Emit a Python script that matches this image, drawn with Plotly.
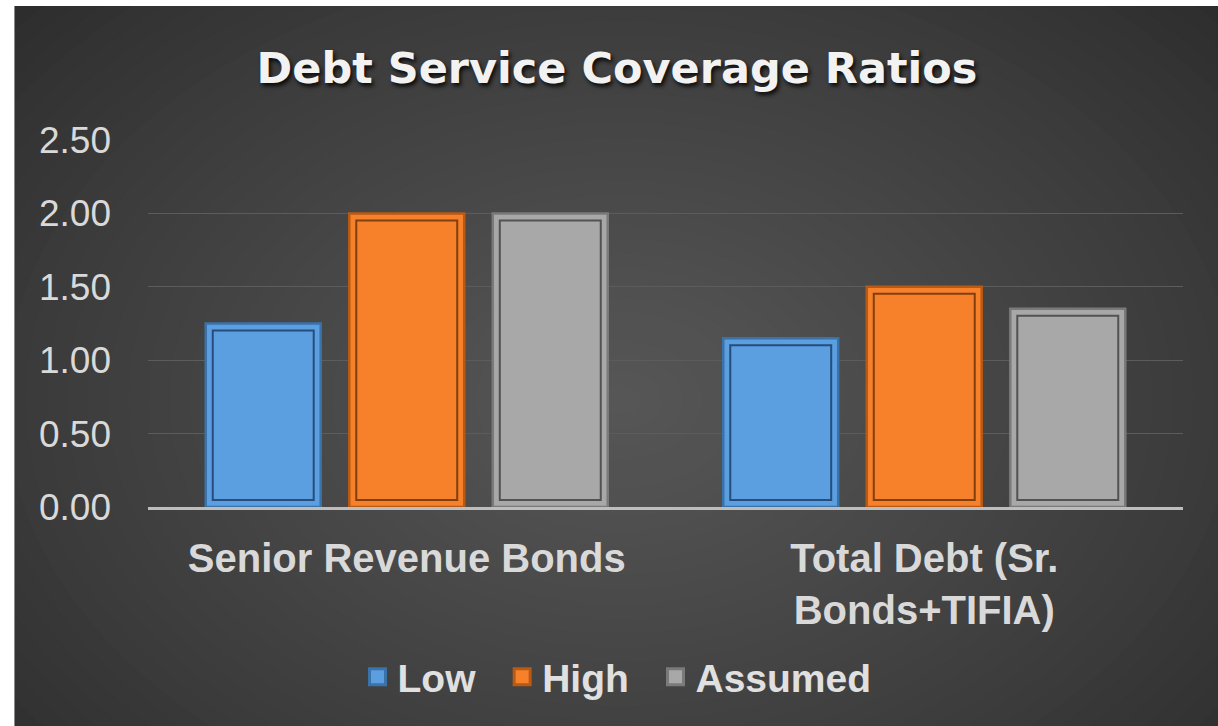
import plotly.graph_objects as go

categories = ["Senior Revenue Bonds", "Total Debt (Sr.<br>Bonds+TIFIA)"]
series_names = ["Low", "High", "Assumed"]
low_values = [1.25, 1.15]
high_values = [2.00, 1.50]
assumed_values = [2.00, 1.35]
y_ticks = [0.0, 0.5, 1.0, 1.5, 2.0, 2.5]

W, H = 1218, 726
L, R, T, B = 148, 35, 140, 219
PW, PH = W - L - R, H - T - B
Y_MAX = 2.5
BARGAP, GROUPGAP = 0.168, 0.199

fills = ["#5b9fe0", "#f7802a", "#a8a8a8"]
edges = ["#3a72aa", "#b85a14", "#7a7a7a"]
grooves = ["rgba(20,50,90,0.75)", "rgba(90,40,5,0.75)", "rgba(60,60,60,0.8)"]
values = [low_values, high_values, assumed_values]

# geometry helpers (pixel -> data units) for the bevel frame
px_per_cat = PW / len(categories)
px_per_unit = PH / Y_MAX
slot = (1 - BARGAP) / 3
bar_w = slot * (1 - GROUPGAP)
inset_px = 7
inner_w = bar_w - 2 * inset_px / px_per_cat
inset_y = inset_px / px_per_unit

fig = go.Figure()
for name, vals, fc, ec in zip(series_names, values, fills, edges):
    fig.add_trace(go.Bar(
        x=categories, y=vals, name=name, showlegend=False, offsetgroup=name,
        marker=dict(color=fc, line=dict(color=ec, width=2.5)),
        hoverinfo="skip",
    ))
for name, vals, gc in zip(series_names, values, grooves):
    fig.add_trace(go.Bar(
        x=categories, y=[v - 2 * inset_y for v in vals], base=inset_y,
        width=inner_w, name=name + " frame", showlegend=False, offsetgroup=name,
        marker=dict(color="rgba(0,0,0,0)", line=dict(color=gc, width=2)),
        hoverinfo="skip",
    ))
for name, fc, ec in zip(series_names, fills, edges):
    fig.add_trace(go.Scatter(
        x=[None], y=[None], mode="markers", name=name + "\u00a0\u00a0",
        marker=dict(symbol="square", size=16, color=fc, line=dict(color=ec, width=3)),
    ))

def px2x(px):
    return (px - L) / PW

def px2y(py):
    return (H - B - py) / PH

shapes = []
cx, cy = 620, 400
N = 45
c_out = (0x26, 0x26, 0x26)
c_in = (0x57, 0x57, 0x57)
shapes.append(dict(type="rect", xref="paper", yref="paper", layer="below",
                   x0=px2x(15), x1=px2x(W + 5), y0=px2y(H + 5), y1=px2y(6),
                   fillcolor="#262626", line=dict(width=0)))
for i in range(N):
    f = i / (N - 1)
    rx = 900 * (1 - f) + 1
    ry = 640 * (1 - f) + 1
    t = f ** 0.8
    col = tuple(int(round(a + (b - a) * t)) for a, b in zip(c_out, c_in))
    shapes.append(dict(type="circle", xref="paper", yref="paper", layer="below",
                       x0=px2x(cx - rx), x1=px2x(cx + rx), y0=px2y(cy + ry), y1=px2y(cy - ry),
                       fillcolor="rgb(%d,%d,%d)" % col, line=dict(width=0)))
shapes.append(dict(type="rect", xref="paper", yref="paper", layer="above",
                   x0=px2x(-5), x1=px2x(14), y0=px2y(H + 5), y1=px2y(-5),
                   fillcolor="white", line=dict(width=0)))
shapes.append(dict(type="rect", xref="paper", yref="paper", layer="above",
                   x0=px2x(-5), x1=px2x(W + 5), y0=px2y(6), y1=px2y(-5),
                   fillcolor="white", line=dict(width=0)))
shapes.append(dict(type="line", xref="paper", yref="paper", layer="above",
                   x0=px2x(14.5), x1=px2x(14.5), y0=px2y(H + 5), y1=px2y(6),
                   line=dict(color="#8a8a8a", width=1)))

fig.update_layout(
    width=W, height=H,
    margin=dict(l=L, r=R, t=T, b=B, pad=0),
    paper_bgcolor="white",
    plot_bgcolor="rgba(0,0,0,0)",
    barmode="group", bargap=BARGAP, bargroupgap=GROUPGAP,
    shapes=shapes,
    title=dict(text="Debt Service Coverage Ratios", x=617 / W, xanchor="center",
               y=1 - 68 / H, yanchor="middle", yref="container",
               font=dict(family="DejaVu Sans", size=43, color="#f2f2f2", weight="bold",
                         shadow="2px 3px 4px rgba(0,0,0,0.85)")),
    xaxis=dict(showgrid=False, showline=True, linecolor="#bdbdbd", linewidth=3,
               ticks="", ticklabelstandoff=14,
               tickfont=dict(family="Liberation Sans", size=40, color="#d9d9d9", weight="bold")),
    yaxis=dict(range=[0, Y_MAX], tickvals=y_ticks, tickformat=".2f", showgrid=True,
               gridcolor="#5c5c5c", gridwidth=1, zeroline=False, showline=False,
               ticks="", ticklabelstandoff=36,
               tickfont=dict(family="Liberation Sans", size=37, color="#d9d9d9")),
    legend=dict(orientation="h", x=628 / W, xanchor="center", xref="container",
                y=1 - 677 / H, yanchor="middle", yref="container",
                bgcolor="rgba(0,0,0,0)", itemclick=False,
                font=dict(family="Liberation Sans", size=39, color="#e0e0e0", weight="bold")),
)

fig.write_html("out.html")
